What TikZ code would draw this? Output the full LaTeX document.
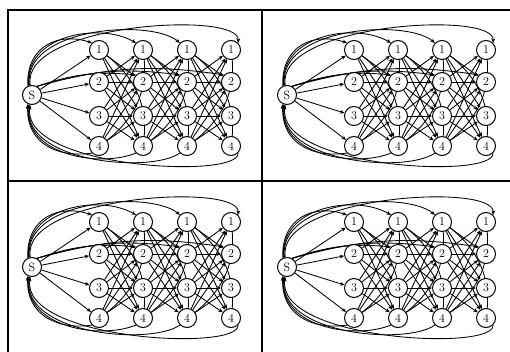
\documentclass[tikz,border=0pt]{standalone}
\usetikzlibrary{arrows.meta,backgrounds}
\begin{document}
\begin{tikzpicture}[x=1pt,y=-1pt,
  vtx/.style={circle,draw,fill=white,line width=1pt,minimum size=19pt,inner sep=0pt,font=\fontsize{12}{14}\selectfont},
  edge/.style={line width=0.85pt,-{Stealth[length=4.5pt,width=3.8pt]}},
  frame/.style={line width=1.4pt}]
\useasboundingbox (0,0) rectangle (510,352);
\foreach \dx/\dy/\p in {0/0/a,255/0/b,0/172/c,255/172/d}{
 \begin{scope}[shift={(\dx,\dy)},name prefix=\p-]
  \node[vtx] (S) at (32,95) {S};
  \foreach \cc/\cx in {1/99,2/143,3/187,4/231}{
    \foreach \rr/\ry in {1/50,2/82,3/116,4/146}{
      \node[vtx] (n\cc\rr) at (\cx,\ry) {\rr};
    }
  }
  \begin{pgfonlayer}{background}
   % source to first column
   \foreach \rr in {1,...,4}{\draw[edge] (S) -- (n1\rr);}
   % between columns
   \foreach \cc [evaluate=\cc as \dd using int(\cc+1)] in {1,2,3}{
     \foreach \ii/\jj in {1/2,1/3,1/4,2/1,2/2,2/3,2/4,3/1,3/2,3/3,3/4,4/1,4/2,4/3}{
       \draw[edge] (n\cc\ii) -- (n\dd\jj);
     }
     \draw[edge] (n\cc1) to[bend left=30] (n\dd4);
     \draw[edge] (n\cc4) to[bend right=30] (n\dd1);
   }
   % long lines to node 2
   \foreach \cc in {2,3,4}{\draw[edge] (S.60) to[bend left=12] (n\cc2.north west);}
   % top arcs
   \draw[edge] (S.115) .. controls (26,45) and (60,32) .. (n11.north west);
   \draw[edge] (S.110) .. controls (24,35) and (100,22) .. (n21.north west);
   \draw[edge] (S.105) .. controls (22,28) and (150,18) .. (n31.north west);
   \draw[edge] (S.100) .. controls (20,24) and (240,10) .. (n41.north east);
   % bottom arcs
   \draw[edge] (n14.south west) .. controls (60,158) and (26,145) .. (S.245);
   \draw[edge] (n24.south west) .. controls (100,168) and (24,155) .. (S.250);
   \draw[edge] (n34.south west) .. controls (150,174) and (22,162) .. (S.255);
   \draw[edge] (n44.south east) .. controls (240,180) and (20,168) .. (S.260);
  \end{pgfonlayer}
 \end{scope}
}
\draw[frame] (8,352) -- (8,10) -- (510,10);
\draw[frame] (262,10) -- (262,352);
\draw[line width=2pt] (8,181) -- (510,181);
\end{tikzpicture}
\end{document}
